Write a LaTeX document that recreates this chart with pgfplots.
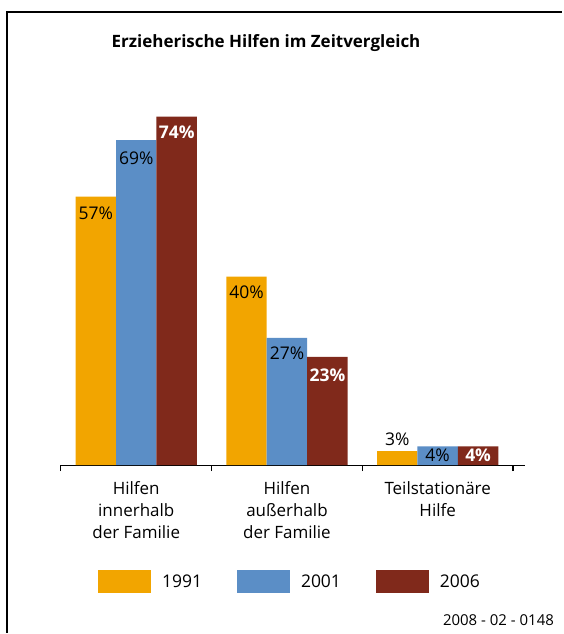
\documentclass[border=0pt]{standalone}
\usepackage{pgfplots}
\pgfplotsset{compat=1.18}
\usepackage{fontspec}
\setmainfont{Open Sans}
\definecolor{corange}{HTML}{F2A500}
\definecolor{cblue}{HTML}{5B8EC6}
\definecolor{cred}{HTML}{80291B}
\begin{document}
\begin{tikzpicture}
\path (0,0) rectangle (563pt,634pt);
\draw[line width=2.2pt] (7pt,0pt) -- (7pt,622pt) -- (563pt,622pt);
\node[font=\bfseries\fontsize{17}{20}\selectfont] at (266.5pt,591pt) {Erzieherische Hilfen im Zeitvergleich};
\node[font=\fontsize{15}{17}\selectfont, anchor=east, inner sep=0pt] at (555pt,13pt) {2008 - 02 - 0148};
\begin{axis}[
  at={(61pt,168pt)}, anchor=south west,
  scale only axis, width=465pt, height=377.6pt,
  xmin=-0.5, xmax=2.58, ymin=0, ymax=80,
  ybar=0pt, bar width=40.5pt,
  axis x line=bottom, axis y line=none,
  x axis line style={-, line width=1.2pt},
  xtick={0,1,2},
  xticklabels={{Hilfen\\innerhalb\\der Familie},{Hilfen\\außerhalb\\der Familie},{Teilstationäre\\Hilfe}},
  major tick length=0pt,
  minor xtick={-0.5,0.5,1.5,2.5}, minor tick length=6pt, tick align=outside,
  minor tick style={black, line width=1.2pt},
  xticklabel style={align=center, font=\fontsize{17}{22}\selectfont, yshift=-13pt},
  clip=false,
  /pgf/number format/assume math mode=true,
  nodes near coords={\pgfmathprintnumber{\pgfplotspointmeta}\%},
  point meta=y,
  visualization depends on={value \thisrow{dy} \as \dy},
  every node near coord/.append style={anchor=center, yshift=\dy pt, font=\fontsize{17.5}{20}\selectfont, inner sep=0pt},
  legend image code/.code={\fill[#1] (0pt,-11.5pt) rectangle (53pt,11.5pt);},
  legend columns=3,
  legend style={at={(0.4915,-0.3085)}, anchor=center, draw=none, fill=none,
    font=\fontsize{17.5}{20}\selectfont, nodes={inner sep=0pt},
    /tikz/every odd column/.append style={column sep=11pt},
    /tikz/every even column/.append style={column sep=35pt}},
]
\addplot[fill=corange, draw=none] table[x=x,y=y] {
x y dy
0 57 -16.5
1 40 -16
2 3 12
};
\addplot[fill=cblue, draw=none] table[x=x,y=y] {
x y dy
0 69 -18
1 27 -15
2 4 -9
};
\addplot[fill=cred, draw=none, every node near coord/.append style={font=\bfseries\fontsize{17.5}{20}\selectfont, white}] table[x=x,y=y] {
x y dy
0 74 -15.5
1 23 -18
2 4 -9
};
\legend{1991,2001,2006}
\end{axis}
\end{tikzpicture}
\end{document}
